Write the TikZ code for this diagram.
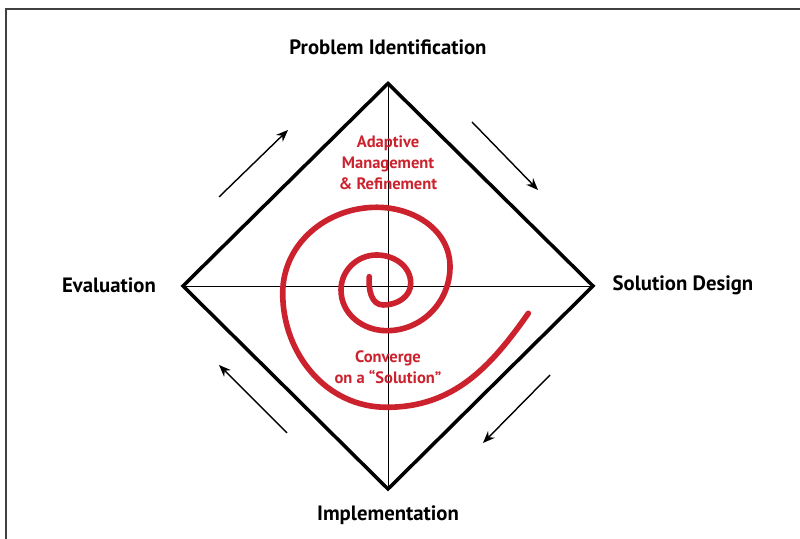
\documentclass[tikz,border=0pt]{standalone}
\usepackage{fontspec}
\setmainfont{PT Sans}
\usetikzlibrary{arrows.meta}
\definecolor{spiralred}{RGB}{204,34,46}

\begin{document}
\begin{tikzpicture}[>={Stealth[length=2.4mm,width=1.9mm]},
  every node/.style={font=\fontsize{11.8}{13}\selectfont\bfseries},
  note/.style={text=spiralred,align=center,font=\fontsize{9.4}{12}\selectfont\bfseries},
  cycle arrow/.style={->,line width=.8pt}]
  \useasboundingbox (0,0) rectangle (16,10.78);
  \draw[black!75,line width=1.1pt] (0.12,0) -- (0.12,10.6) -- (16,10.6);

  \coordinate (top) at (7.76,9.11);
  \coordinate (bot) at (7.76,1.0);
  \coordinate (lft) at (3.66,5.06);
  \coordinate (rgt) at (11.86,5.06);
  \draw[line width=.5pt] (top) -- (bot) (lft) -- (rgt);
  \draw[line width=2pt] (top) -- (rgt) -- (bot) -- (lft) -- cycle;

  \node (probid) at (7.76,9.84) {Problem Identification};
  \node (design) at (13.66,5.08) {Solution Design};
  \node (implem) at (7.76,0.48) {Implementation};
  \node (evalua) at (2.18,5.08) {Evaluation};

  \draw[cycle arrow] (4.38,6.84) -- (5.76,8.18);
  \draw[cycle arrow] (9.44,8.34) -- (10.76,6.98);
  \draw[cycle arrow] (11.0,3.28) -- (9.66,1.92);
  \draw[cycle arrow] (5.74,2.12) -- (4.38,3.48);

  \draw[spiralred,line width=3.2pt,line cap=round]
    (7.386,5.246) to[out=265,in=180] (7.666,4.68)
    to[out=0,in=270] (8.214,5.114) to[out=90,in=0] (7.534,5.68)
    to[out=180,in=90] (6.82,4.98) to[out=270,in=180] (7.734,4.166)
    to[out=0,in=270] (9.0,5.446) to[out=90,in=0] (7.534,6.634)
    to[out=180,in=90] (5.654,4.914) to[out=270,in=180] (7.734,2.634)
    to[out=0,in=235] (10.566,4.514);

  \node[note] (adapt) at (7.76,7.52) {Adaptive\\Management\\\& Refinement};
  \node[note] (conv) at (7.76,3.44) {Converge\\on a “Solution”};
\end{tikzpicture}
\end{document}
